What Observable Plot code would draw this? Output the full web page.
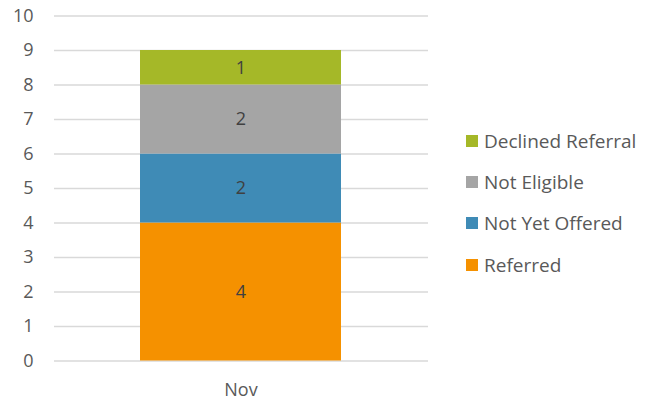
<!DOCTYPE html>
<html>
<head>
<meta charset="utf-8">
<script src="https://cdn.jsdelivr.net/npm/d3@7"></script>
<script src="https://cdn.jsdelivr.net/npm/@observablehq/plot@0.6"></script>
<style>
  html, body { margin: 0; padding: 0; background: #fff; }
  #wrap { position: relative; width: 647px; height: 403px; font-family: "Open Sans", sans-serif; }
  #legend { position: absolute; left: 466px; top: 120px; }
  .item { display: flex; align-items: center; height: 41.3px; font-size: 19px; color: #595959; white-space: nowrap; }
  .sw { width: 12px; height: 12px; margin-right: 6px; flex: none; }
</style>
</head>
<body>
<div id="wrap"></div>
<script>
const categories = ["Nov"];
const series = ["Referred", "Not Yet Offered", "Not Eligible", "Declined Referral"];
const values = [4, 2, 2, 1];
const colors = ["#f59100", "#3f8bb6", "#a5a5a5", "#a5b828"];
const yTicks = [0, 1, 2, 3, 4, 5, 6, 7, 8, 9, 10];
const legendOrder = ["Declined Referral", "Not Eligible", "Not Yet Offered", "Referred"];

const data = series.map((s, i) => ({ month: categories[0], series: s, value: values[i] }));

const chart = Plot.plot({
  width: 647,
  height: 403,
  marginLeft: 54,
  marginRight: 219,
  marginTop: 15.5,
  marginBottom: 42.5,
  x: { domain: categories, padding: 0.2987, label: null },
  y: { domain: [0, 10], label: null },
  color: { domain: series, range: colors },
  style: { fontFamily: "Open Sans, sans-serif", fontSize: "18px", color: "#595959", background: "#fff" },
  marks: [
    Plot.ruleY(yTicks, { stroke: "#d9d9d9", strokeWidth: 1.3 }),
    Plot.barY(data, { x: "month", y: "value", fill: "series", order: series }),
    Plot.text(data, Plot.stackY({ x: "month", y: "value", z: "series", order: series, text: d => String(d.value), fill: "#404040", fontSize: 18 })),
    Plot.axisY({ ticks: yTicks, tickSize: 0, tickPadding: 21, label: null, fontSize: 18 }),
    Plot.axisX({ tickSize: 0, tickPadding: 22, label: null, fontSize: 18 })
  ]
});

const wrap = document.getElementById("wrap");
wrap.appendChild(chart);

const legend = document.createElement("div");
legend.id = "legend";
for (const s of legendOrder) {
  const item = document.createElement("div");
  item.className = "item";
  const sw = document.createElement("span");
  sw.className = "sw";
  sw.style.background = colors[series.indexOf(s)];
  const lab = document.createElement("span");
  lab.textContent = s;
  item.appendChild(sw);
  item.appendChild(lab);
  legend.appendChild(item);
}
wrap.appendChild(legend);
</script>
</body>
</html>
